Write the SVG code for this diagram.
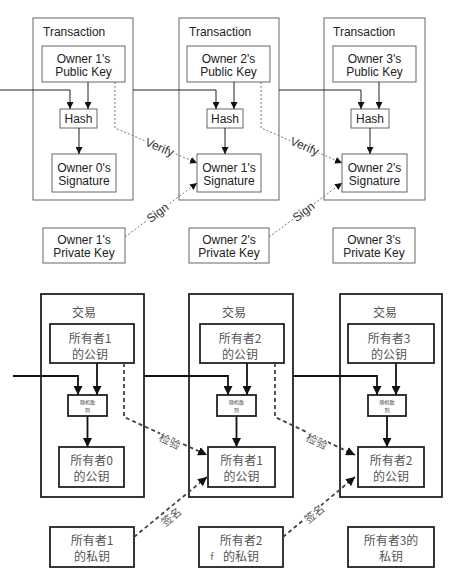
<svg xmlns="http://www.w3.org/2000/svg" width="469" height="574" viewBox="0 0 469 574">
<defs>
<marker id="a1" viewBox="0 0 8 8" refX="8" refY="4" markerWidth="7" markerHeight="7" markerUnits="userSpaceOnUse" orient="auto"><path d="M0,0 L8,4 L0,8 z" fill="#111"/></marker>
<marker id="a2" viewBox="0 0 8 8" refX="8" refY="4" markerWidth="9" markerHeight="9" markerUnits="userSpaceOnUse" orient="auto"><path d="M0,0 L8,4 L0,8 z" fill="#111"/></marker>
</defs>
<style>
.tb{fill:#fff;stroke:#666;stroke-width:1}
.nb{fill:#fff;stroke:#666;stroke-width:1}
.t{font-family:"Liberation Sans",Arial,sans-serif;font-size:12px;fill:#222;text-anchor:middle}
.tl{font-family:"Liberation Sans",Arial,sans-serif;font-size:12px;fill:#222}
.cb{fill:#fff;stroke:#222;stroke-width:1.8}
.c{font-family:"Noto Sans CJK SC",sans-serif;font-size:12px;fill:#555;text-anchor:middle}
.cs{font-family:"Noto Sans CJK SC",sans-serif;font-size:5px;fill:#444;text-anchor:middle}
.l1{fill:none;stroke:#222;stroke-width:1}
.d1{fill:none;stroke:#777;stroke-width:1;stroke-dasharray:2,2}
.l2{fill:none;stroke:#111;stroke-width:1.8}
.d2{fill:none;stroke:#444;stroke-width:1.8;stroke-dasharray:4,3}
.lab{font-family:"Liberation Sans",Arial,sans-serif;font-size:12px;fill:#333;text-anchor:middle;stroke:#fff;stroke-width:4;paint-order:stroke}
.clab{font-family:"Noto Sans CJK SC",sans-serif;font-size:11px;fill:#555;text-anchor:middle;stroke:#fff;stroke-width:3;paint-order:stroke}
</style>
<rect width="469" height="574" fill="#fff"/>

<!-- Top diagram -->
<g id="tx1"><rect class="tb" x="33" y="18" width="100" height="182"/><text class="tl" x="43" y="36">Transaction</text></g>
<g id="tx2"><rect class="tb" x="179" y="18" width="100" height="182"/><text class="tl" x="189" y="36">Transaction</text></g>
<g id="tx3"><rect class="tb" x="324" y="18" width="101" height="182"/><text class="tl" x="333" y="36">Transaction</text></g>

<g id="pk1"><rect class="nb" x="42" y="46" width="83" height="36"/><text class="t" x="83.5" y="63">Owner 1's</text><text class="t" x="83.5" y="76">Public Key</text></g>
<g id="pk2"><rect class="nb" x="187" y="46" width="83" height="36"/><text class="t" x="228.5" y="63">Owner 2's</text><text class="t" x="228.5" y="76">Public Key</text></g>
<g id="pk3"><rect class="nb" x="333" y="46" width="83" height="36"/><text class="t" x="374.5" y="63">Owner 3's</text><text class="t" x="374.5" y="76">Public Key</text></g>

<g id="h1"><rect class="nb" x="60" y="109" width="37" height="19"/><text class="t" x="78.5" y="123">Hash</text></g>
<g id="h2"><rect class="nb" x="207" y="109" width="36" height="19"/><text class="t" x="225" y="123">Hash</text></g>
<g id="h3"><rect class="nb" x="351" y="109" width="38" height="19"/><text class="t" x="370" y="123">Hash</text></g>

<g id="s0"><rect class="nb" x="52" y="154" width="64" height="38"/><text class="t" x="84" y="172">Owner 0's</text><text class="t" x="84" y="185">Signature</text></g>
<g id="s1"><rect class="nb" x="197" y="154" width="64" height="38"/><text class="t" x="229" y="172">Owner 1's</text><text class="t" x="229" y="185">Signature</text></g>
<g id="s2"><rect class="nb" x="342" y="154" width="65" height="38"/><text class="t" x="374.5" y="172">Owner 2's</text><text class="t" x="374.5" y="185">Signature</text></g>

<g id="pr1"><rect class="nb" x="43" y="228" width="82" height="35"/><text class="t" x="84" y="244">Owner 1's</text><text class="t" x="84" y="257">Private Key</text></g>
<g id="pr2"><rect class="nb" x="189" y="228" width="80" height="35"/><text class="t" x="229" y="244">Owner 2's</text><text class="t" x="229" y="257">Private Key</text></g>
<g id="pr3"><rect class="nb" x="333" y="228" width="82" height="35"/><text class="t" x="374" y="244">Owner 3's</text><text class="t" x="374" y="257">Private Key</text></g>

<g id="top-connectors">
<path class="l1" d="M0,90 H70 V109" marker-end="url(#a1)"/>
<path class="l1" d="M133,90 H216 V109" marker-end="url(#a1)"/>
<path class="l1" d="M279,90 H361 V109" marker-end="url(#a1)"/>
<path class="l1" d="M88,82 V109" marker-end="url(#a1)"/>
<path class="l1" d="M234,82 V109" marker-end="url(#a1)"/>
<path class="l1" d="M379,82 V109" marker-end="url(#a1)"/>
<path class="l1" d="M79,128 V154" marker-end="url(#a1)"/>
<path class="l1" d="M225,128 V154" marker-end="url(#a1)"/>
<path class="l1" d="M370,128 V154" marker-end="url(#a1)"/>
<path class="d1" d="M115,82 V128 L197,163" marker-end="url(#a1)"/>
<path class="d1" d="M125,237 L197,183" marker-end="url(#a1)"/>
<path class="d1" d="M261,82 V128 L342,163" marker-end="url(#a1)"/>
<path class="d1" d="M269,237 L342,183" marker-end="url(#a1)"/>
<text class="lab" transform="translate(158,151) rotate(23)">Verify</text>
<text class="lab" transform="translate(160,216) rotate(-37)">Sign</text>
<text class="lab" transform="translate(303,150) rotate(23)">Verify</text>
<text class="lab" transform="translate(306,215) rotate(-37)">Sign</text>
</g>

<!-- Bottom diagram -->
<g id="ctx1"><rect class="cb" x="41" y="294" width="103" height="203"/><text class="c" x="84" y="317">交易</text></g>
<g id="ctx2"><rect class="cb" x="189" y="294" width="104" height="203"/><text class="c" x="234" y="317">交易</text></g>
<g id="ctx3"><rect class="cb" x="340" y="294" width="102" height="203"/><text class="c" x="385" y="317">交易</text></g>

<g id="cpk1"><rect class="cb" x="50" y="324" width="84" height="39"/><text class="c" x="90" y="343">所有者1</text><text class="c" x="90" y="359">的公钥</text></g>
<g id="cpk2"><rect class="cb" x="200" y="324" width="84" height="39"/><text class="c" x="240" y="343">所有者2</text><text class="c" x="240" y="359">的公钥</text></g>
<g id="cpk3"><rect class="cb" x="348" y="324" width="86" height="39"/><text class="c" x="389" y="343">所有者3</text><text class="c" x="389" y="359">的公钥</text></g>

<g id="ch1"><rect class="cb" x="68" y="395" width="39" height="21"/><text class="cs" x="87.5" y="404">随机散</text><text class="cs" x="87.5" y="412">列</text></g>
<g id="ch2"><rect class="cb" x="217" y="395" width="39" height="21"/><text class="cs" x="236.5" y="404">随机散</text><text class="cs" x="236.5" y="412">列</text></g>
<g id="ch3"><rect class="cb" x="368" y="395" width="38" height="21"/><text class="cs" x="387" y="404">随机散</text><text class="cs" x="387" y="412">列</text></g>

<g id="cs0"><rect class="cb" x="59" y="447" width="65" height="40"/><text class="c" x="91.5" y="465">所有者0</text><text class="c" x="91.5" y="481">的公钥</text></g>
<g id="cs1"><rect class="cb" x="208" y="447" width="67" height="40"/><text class="c" x="241.5" y="465">所有者1</text><text class="c" x="241.5" y="481">的公钥</text></g>
<g id="cs2"><rect class="cb" x="358" y="447" width="66" height="40"/><text class="c" x="391" y="465">所有者2</text><text class="c" x="391" y="481">的公钥</text></g>

<g id="cpr1"><rect class="cb" x="50" y="527" width="84" height="40"/><text class="c" x="92" y="545">所有者1</text><text class="c" x="92" y="561">的私钥</text></g>
<g id="cpr2"><rect class="cb" x="199" y="527" width="84" height="40"/><text class="c" x="241" y="545">所有者2</text><text class="c" x="241" y="561">的私钥</text><text class="c" x="212" y="560" style="font-size:9px">f</text></g>
<g id="cpr3"><rect class="cb" x="348" y="527" width="86" height="40"/><text class="c" x="391" y="545">所有者3的</text><text class="c" x="391" y="561">私钥</text></g>

<g id="bottom-connectors">
<path class="l2" d="M13,376 H78 V395" marker-end="url(#a2)"/>
<path class="l2" d="M144,376 H228 V395" marker-end="url(#a2)"/>
<path class="l2" d="M293,376 H377 V395" marker-end="url(#a2)"/>
<path class="l2" d="M97,363 V395" marker-end="url(#a2)"/>
<path class="l2" d="M247,363 V395" marker-end="url(#a2)"/>
<path class="l2" d="M396,363 V395" marker-end="url(#a2)"/>
<path class="l2" d="M87.5,416 V447" marker-end="url(#a2)"/>
<path class="l2" d="M236.5,416 V447" marker-end="url(#a2)"/>
<path class="l2" d="M387,416 V447" marker-end="url(#a2)"/>
<path class="d2" d="M124,363 V417 L207,455" marker-end="url(#a2)"/>
<path class="d2" d="M134,537 L207,477" marker-end="url(#a2)"/>
<path class="d2" d="M275,363 V417 L355,455" marker-end="url(#a2)"/>
<path class="d2" d="M283,537 L355,477" marker-end="url(#a2)"/>
<text class="clab" transform="translate(168,445) rotate(25)">检验</text>
<text class="clab" transform="translate(174,520) rotate(-40)">签名</text>
<text class="clab" transform="translate(315,445) rotate(25)">检验</text>
<text class="clab" transform="translate(317,517) rotate(-40)">签名</text>
</g>
</svg>
